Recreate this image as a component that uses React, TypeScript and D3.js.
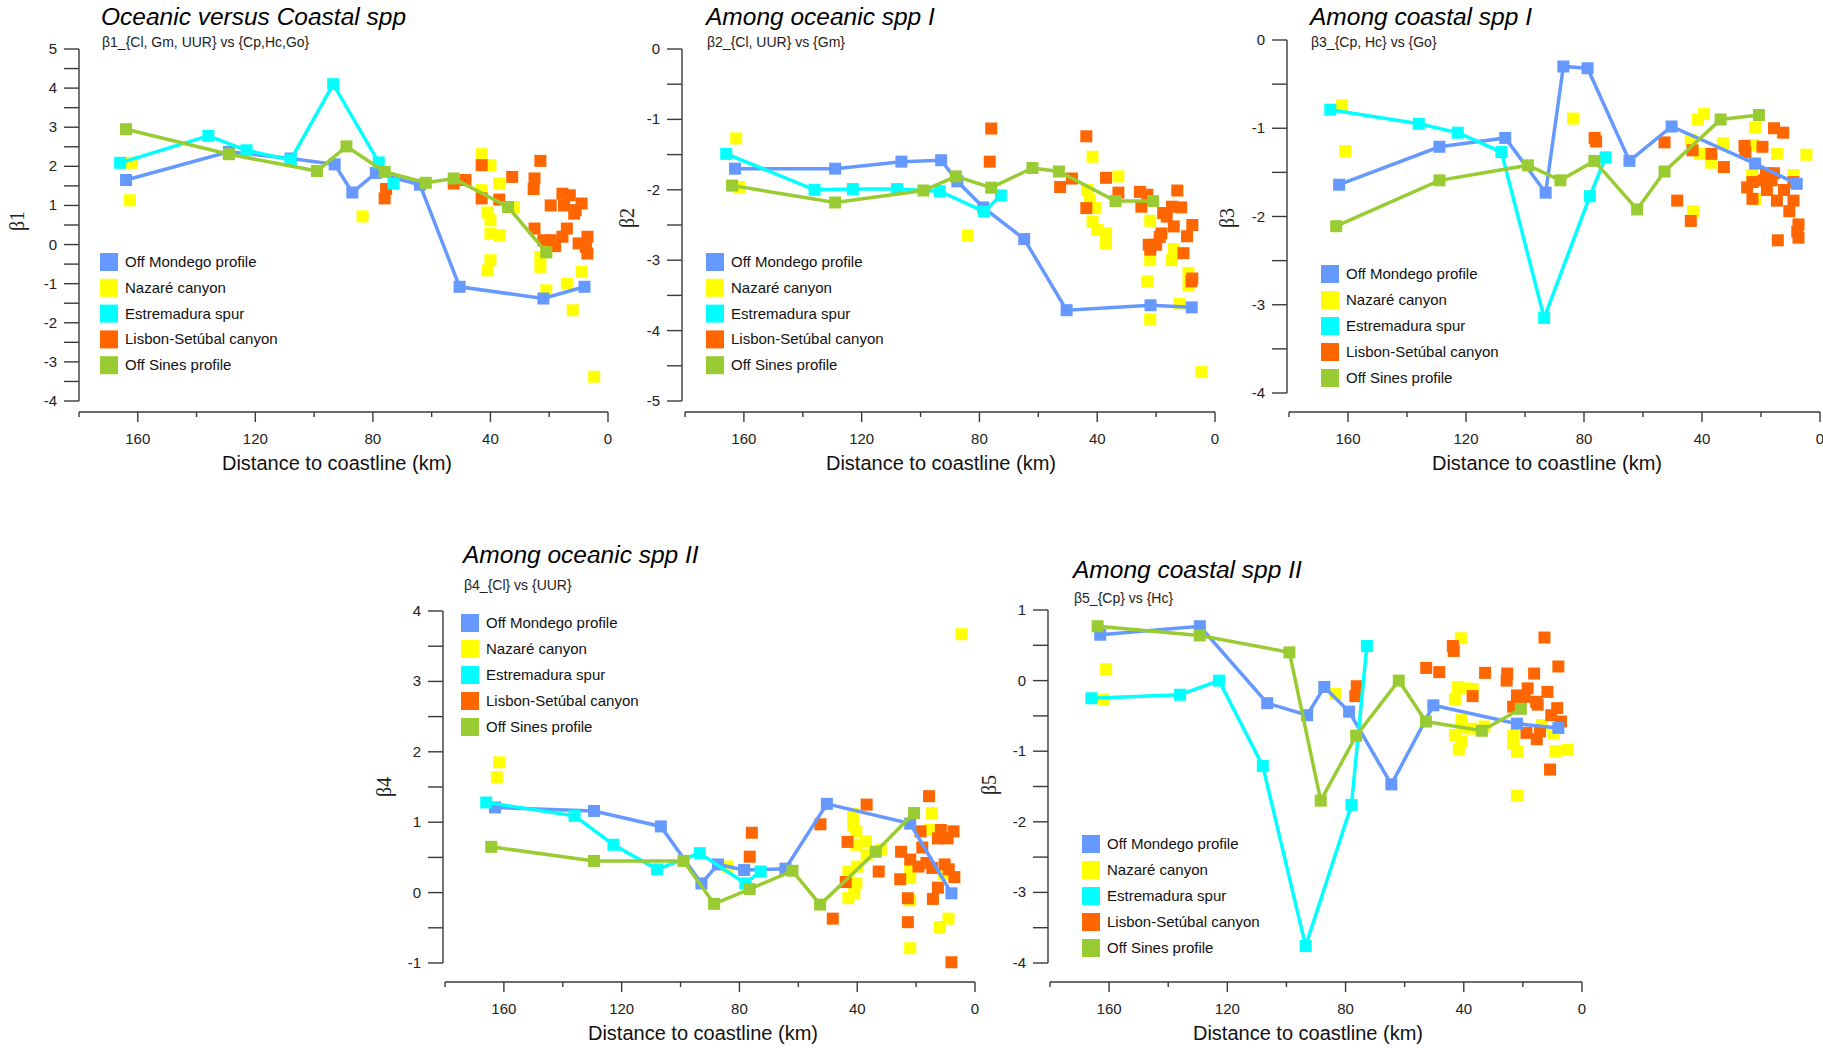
import React from "react";
import * as d3 from "d3";

type P = [number, number];

const seriesNames = ["Off Mondego profile", "Nazaré canyon", "Estremadura spur", "Lisbon-Setúbal canyon", "Off Sines profile"];
const seriesColors = ["#6699ff", "#ffff00", "#00ffff", "#ff6600", "#99cc33"];
const xTickLabels = [160, 120, 80, 40, 0];

// Panel 1 (β1)
const b1Mondego: P[] = [[164,1.65],[129,2.37],[108,2.2],[93,2.05],[87,1.33],[79,1.83],[64,1.53],[50.5,-1.08],[22,-1.38],[8,-1.08]];
const b1Estremadura: P[] = [[166,2.09],[136,2.78],[123,2.41],[108,2.16],[93.5,4.1],[78,2.1],[73,1.56]];
const b1Sines: P[] = [[164,2.95],[129,2.31],[99,1.88],[89,2.51],[76,1.86],[62,1.58],[52.5,1.69],[34,0.96],[21,-0.2]];
const b1Nazare: P[] = [[162,2.09],[162.7,1.13],[83.5,0.72],[43,2.31],[40,2.03],[43,1.39],[41,0.82],[40,0.62],[40,0.28],[37,0.24],[37,1.56],[40,-0.4],[41,-0.66],[32,0.96],[23,-0.32],[23,-0.57],[21,-1.17],[14,-1.0],[12,-1.68],[9,-0.7],[4.7,-3.38],[21,-0.15]];
const b1Lisbon: P[] = [[76,1.18],[75.5,1.42],[52.5,1.56],[48.5,1.65],[43,2.03],[43,1.18],[37,1.15],[32.6,1.73],[25,1.69],[25.3,1.42],[23,2.14],[25,0.41],[22,0.11],[19.5,0.11],[18,-0.04],[15.5,1.3],[13,1.26],[15,1.0],[19.5,1.0],[11,0.88],[9,1.05],[11.5,0.79],[14,0.41],[15.5,0.2],[10,0.03],[7.5,-0.06],[7,-0.23],[7,0.2]];

// Panel 2 (β2)
const b2Mondego: P[] = [[163,-1.7],[129,-1.7],[106.5,-1.6],[93,-1.58],[87.5,-1.88],[78.7,-2.25],[64.8,-2.7],[50.4,-3.71],[21.9,-3.64],[7.9,-3.67]];
const b2Estremadura: P[] = [[166,-1.49],[136,-2.0],[123,-1.99],[108,-1.99],[93.5,-2.02],[78.4,-2.31],[72.7,-2.08]];
const b2Sines: P[] = [[164,-1.94],[129,-2.18],[99,-2.01],[88,-1.81],[76,-1.97],[62,-1.69],[53,-1.74],[33.8,-2.16],[21,-2.16]];
const b2Nazare: P[] = [[162.6,-1.27],[161.6,-1.96],[84,-2.65],[41.6,-1.53],[43.4,-2.0],[42.5,-2.14],[40.7,-2.26],[41.6,-2.45],[40,-2.57],[37,-2.62],[37,-2.76],[32.8,-1.81],[22,-2.44],[22,-3.0],[23,-3.3],[22,-3.84],[14,-2.84],[14.6,-3.0],[9,-3.18],[9,-3.36],[12,-3.62],[4.6,-4.59]];
const b2Lisbon: P[] = [[76,-1.13],[76.5,-1.6],[43.7,-1.24],[52.6,-1.96],[48.6,-1.84],[37,-1.83],[32.8,-2.04],[43.7,-2.26],[25.5,-2.03],[23,-2.07],[25,-2.24],[12.8,-2.01],[14.6,-2.24],[11.5,-2.25],[16.4,-2.38],[14,-2.52],[18.2,-2.62],[18.8,-2.67],[22.5,-2.78],[20,-2.78],[22,-2.85],[7.7,-2.5],[9.5,-2.66],[10.7,-2.9],[7.7,-3.26],[8,-3.3],[17.6,-2.33]];

// Panel 3 (β3)
const b3Mondego: P[] = [[163,-1.64],[129,-1.21],[106.7,-1.11],[93,-1.73],[87,-0.3],[78.8,-0.32],[64.6,-1.37],[50.3,-0.98],[22,-1.4],[7.9,-1.63]];
const b3Estremadura: P[] = [[166,-0.79],[136,-0.95],[122.8,-1.05],[108,-1.27],[93.5,-3.15],[78,-1.77],[72.7,-1.33]];
const b3Sines: P[] = [[164,-2.11],[129,-1.59],[99,-1.42],[88,-1.59],[76.5,-1.37],[62,-1.92],[52.7,-1.49],[33.7,-0.9],[20.7,-0.85]];
const b3Nazare: P[] = [[162,-0.74],[161,-1.26],[83.7,-0.89],[41.4,-0.9],[39.3,-0.84],[43.8,-1.13],[40.8,-1.29],[37,-1.39],[32.9,-1.17],[22,-0.99],[22.5,-1.19],[14.6,-1.29],[4.6,-1.3],[23,-1.53],[9,-1.53],[43,-1.94],[22,-1.8]];
const b3Lisbon: P[] = [[76.4,-1.11],[75.9,-1.15],[52.7,-1.16],[43.2,-1.25],[36.8,-1.29],[32.6,-1.44],[48.4,-1.82],[43.8,-2.05],[25.6,-1.2],[25.3,-1.27],[19.5,-1.21],[15.6,-1.0],[12.5,-1.05],[18.3,-1.51],[15.6,-1.51],[19,-1.59],[16.4,-1.59],[22.9,-1.61],[24.7,-1.67],[18,-1.7],[22.9,-1.8],[14.6,-1.82],[12.2,-1.7],[9,-1.61],[9,-1.82],[10.4,-1.94],[7.3,-2.09],[7.7,-2.17],[7.3,-2.24],[14.3,-2.27]];

// Panel 4 (β4)
const b4Mondego: P[] = [[163,1.21],[129.4,1.16],[106.7,0.94],[92.9,0.13],[87.3,0.4],[78.4,0.32],[64.4,0.34],[50.3,1.26],[22,0.98],[8,-0.01]];
const b4Estremadura: P[] = [[166,1.28],[136,1.09],[122.8,0.68],[108,0.33],[93.5,0.56],[78,0.13],[72.8,0.3]];
const b4Sines: P[] = [[164.3,0.65],[129.4,0.45],[99,0.45],[88.6,-0.16],[76.5,0.05],[62,0.31],[52.6,-0.17],[33.7,0.58],[20.7,1.13]];
const b4Nazare: P[] = [[162.4,1.64],[161.6,1.85],[84,0.37],[41.4,1.12],[41.4,0.96],[40.3,0.87],[40.3,0.68],[37,0.73],[36.8,0.54],[40,0.37],[43,0.3],[40.3,0.13],[41,-0.01],[43,-0.08],[32,0.61],[14.6,1.13],[15.3,0.89],[22,0.33],[22,0.21],[22,-0.11],[22,-0.79],[11.9,-0.49],[9,-0.37],[10.6,0.26],[4.6,3.67]];
const b4Lisbon: P[] = [[75.8,0.85],[76.5,0.51],[52.5,0.97],[48.3,-0.37],[36.8,1.25],[43.3,0.72],[43.9,0.15],[32.7,0.3],[25.1,0.58],[22,0.47],[25.4,0.19],[22.8,-0.08],[22.8,-0.42],[15.6,1.37],[18.5,0.87],[17.9,0.64],[19.2,0.37],[16.5,0.42],[14.5,0.35],[11.6,0.89],[12.6,0.77],[9.3,0.77],[7.3,0.87],[10.3,0.4],[8.9,0.33],[7,0.22],[12.6,0.07],[14.3,-0.09],[8,-0.99]];

// Panel 5 (β5)
const b5Mondego: P[] = [[163,0.65],[129.3,0.77],[106.5,-0.32],[93,-0.49],[87.2,-0.09],[78.8,-0.44],[64.5,-1.47],[50.3,-0.35],[22,-0.61],[8,-0.67]];
const b5Estremadura: P[] = [[166,-0.25],[136,-0.2],[122.8,0.0],[108,-1.21],[93.5,-3.76],[78,-1.76],[72.8,0.49]];
const b5Sines: P[] = [[163.9,0.77],[129.3,0.64],[99,0.4],[88.4,-1.7],[76.4,-0.78],[62,0.0],[52.8,-0.58],[33.9,-0.71],[20.7,-0.4]];
const b5Nazare: P[] = [[161,0.16],[162,-0.27],[83.5,-0.19],[41,0.6],[42,-0.09],[39.5,-0.11],[37,-0.12],[43,-0.26],[40.8,-0.56],[40.8,-0.67],[37.6,-0.68],[33,-0.65],[43,-0.77],[40.8,-0.86],[41.7,-0.97],[23.3,-0.78],[23.3,-0.89],[22,-1.01],[22,-1.63],[13.6,-0.63],[9.7,-0.75],[9,-1.0],[4.9,-0.98]];
const b5Lisbon: P[] = [[76.2,-0.08],[76.7,-0.22],[52.7,0.18],[48.3,0.12],[43.7,0.49],[43.4,0.42],[37,-0.22],[32.8,0.11],[25.3,0.1],[25.5,0.0],[22,-0.21],[23.3,-0.37],[18.4,-0.11],[19.4,-0.23],[16.2,0.1],[15.5,-0.3],[15,-0.34],[11.7,-0.16],[12.7,0.61],[8,0.2],[10.4,-0.49],[8.4,-0.39],[7.1,-0.58],[18.8,-0.74],[15.3,-0.83],[14.2,-0.72],[10.8,-1.26],[20.7,-0.26]];

const titles = ["Oceanic versus Coastal spp", "Among oceanic spp I", "Among coastal spp I", "Among oceanic spp II", "Among coastal spp II"];
const subtitles = ["β1_{Cl, Gm, UUR} vs {Cp,Hc,Go}", "β2_{Cl, UUR} vs {Gm}", "β3_{Cp, Hc} vs {Go}", "β4_{Cl} vs {UUR}", "β5_{Cp} vs {Hc}"];
const yLabels = ["β1", "β2", "β3", "β4", "β5"];
const yDomains: [number, number][] = [[-4, 5], [-5, 0], [-4, 0], [-1, 4], [-4, 1]];

const panelData = [
  { mondego: b1Mondego, nazare: b1Nazare, estremadura: b1Estremadura, lisbon: b1Lisbon, sines: b1Sines },
  { mondego: b2Mondego, nazare: b2Nazare, estremadura: b2Estremadura, lisbon: b2Lisbon, sines: b2Sines },
  { mondego: b3Mondego, nazare: b3Nazare, estremadura: b3Estremadura, lisbon: b3Lisbon, sines: b3Sines },
  { mondego: b4Mondego, nazare: b4Nazare, estremadura: b4Estremadura, lisbon: b4Lisbon, sines: b4Sines },
  { mondego: b5Mondego, nazare: b5Nazare, estremadura: b5Estremadura, lisbon: b5Lisbon, sines: b5Sines },
];

const layouts = [
  { yAxisX: 79, yTop: 49, yBot: 401, xAxisY: 412, x180: 79, x0: 608, titleX: 101, titleY: 25, subY: 47, legX: 100, legY: 262, legStep: 25.8, xlabX: 337, xlabY: 470, ylabX: 24, ylabY: 221 },
  { yAxisX: 682, yTop: 49, yBot: 401, xAxisY: 412, x180: 685, x0: 1215, titleX: 706, titleY: 25, subY: 47, legX: 706, legY: 262, legStep: 25.8, xlabX: 941, xlabY: 470, ylabX: 634, ylabY: 218 },
  { yAxisX: 1287, yTop: 40, yBot: 393, xAxisY: 412, x180: 1289, x0: 1820, titleX: 1310, titleY: 25, subY: 47, legX: 1321, legY: 274, legStep: 26, xlabX: 1547, xlabY: 470, ylabX: 1234, ylabY: 218 },
  { yAxisX: 443, yTop: 611, yBot: 963, xAxisY: 982, x180: 445, x0: 975, titleX: 463, titleY: 563, subY: 590, legX: 461, legY: 623, legStep: 26, xlabX: 703, xlabY: 1040, ylabX: 391, ylabY: 787 },
  { yAxisX: 1048, yTop: 610, yBot: 963, xAxisY: 982, x180: 1050, x0: 1582, titleX: 1073, titleY: 578, subY: 603, legX: 1082, legY: 844, legStep: 26, xlabX: 1308, xlabY: 1040, ylabX: 996, ylabY: 785 },
];

const FONT = "'Liberation Sans', Arial, sans-serif";
const AX = "#3a3a3a";
const MS = 12;

function Panel({ i }: { i: number }) {
  const L = layouts[i];
  const data = panelData[i];
  const x = d3.scaleLinear().domain([180, 0]).range([L.x180, L.x0]);
  const y = d3.scaleLinear().domain(yDomains[i]).range([L.yBot, L.yTop]);
  const line = d3.line<P>().x((d) => x(d[0])).y((d) => y(d[1]));
  const yMinor = d3.range(yDomains[i][0], yDomains[i][1] + 0.01, 0.5);
  const xMinor = d3.range(0, 181, 20);
  const squares = (pts: P[], color: string) =>
    pts.map((p, k) => <rect key={k} x={x(p[0]) - MS / 2} y={y(p[1]) - MS / 2} width={MS} height={MS} fill={color} />);
  const lineSeries: [P[], string][] = [
    [data.mondego, seriesColors[0]],
    [data.estremadura, seriesColors[2]],
    [data.sines, seriesColors[4]],
  ];
  return (
    <g>
      <text x={L.titleX} y={L.titleY} fontFamily={FONT} fontStyle="italic" fontSize={24.5} fill="#000">{titles[i]}</text>
      <text x={L.titleX + 1} y={L.subY} fontFamily={FONT} fontSize={14} fill="#222">{subtitles[i]}</text>
      <line x1={L.yAxisX} x2={L.yAxisX} y1={L.yTop} y2={L.yBot} stroke={AX} strokeWidth={1.4} />
      {yMinor.map((v) => (
        <line key={v} x1={L.yAxisX - 15} x2={L.yAxisX} y1={y(v)} y2={y(v)} stroke={AX} strokeWidth={1.4} />
      ))}
      {yMinor.filter((v) => Number.isInteger(v)).map((v) => (
        <text key={v} x={L.yAxisX - 22} y={y(v) + 5} textAnchor="end" fontFamily={FONT} fontSize={15} fill="#222">{v}</text>
      ))}
      <text x={L.ylabX} y={L.ylabY} transform={`rotate(-90 ${L.ylabX} ${L.ylabY})`} textAnchor="middle" fontFamily="'Liberation Serif', serif" fontSize={20} fill="#222">{yLabels[i]}</text>
      <line x1={x(180)} x2={x(0)} y1={L.xAxisY} y2={L.xAxisY} stroke={AX} strokeWidth={1.4} />
      {xMinor.map((v) => (
        <line key={v} x1={x(v)} x2={x(v)} y1={L.xAxisY} y2={L.xAxisY + (v % 40 === 0 ? 10 : 5)} stroke={AX} strokeWidth={1.4} />
      ))}
      {xTickLabels.map((v) => (
        <text key={v} x={x(v)} y={L.xAxisY + 32} textAnchor="middle" fontFamily={FONT} fontSize={15} fill="#222">{v}</text>
      ))}
      <text x={L.xlabX} y={L.xlabY} textAnchor="middle" fontFamily={FONT} fontSize={20} fill="#111">Distance to coastline (km)</text>
      {squares(data.nazare, seriesColors[1])}
      {squares(data.lisbon, seriesColors[3])}
      {lineSeries.map(([pts, c], k) => (
        <g key={k}>
          <path d={line(pts) || ""} fill="none" stroke={c} strokeWidth={3.5} />
          {squares(pts, c)}
        </g>
      ))}
      {seriesNames.map((n, k) => (
        <g key={n}>
          <rect x={L.legX} y={L.legY + k * L.legStep - 9} width={18} height={18} fill={seriesColors[k]} />
          <text x={L.legX + 25} y={L.legY + k * L.legStep + 5} fontFamily={FONT} fontSize={15} fill="#111">{n}</text>
        </g>
      ))}
    </g>
  );
}

export default function App() {
  return (
    <svg width={1823} height={1048} style={{ position: "absolute", left: 0, top: 0, background: "#fff" }}>
      <rect width={1823} height={1048} fill="#fff" />
      {[0, 1, 2, 3, 4].map((i) => <Panel key={i} i={i} />)}
    </svg>
  );
}
